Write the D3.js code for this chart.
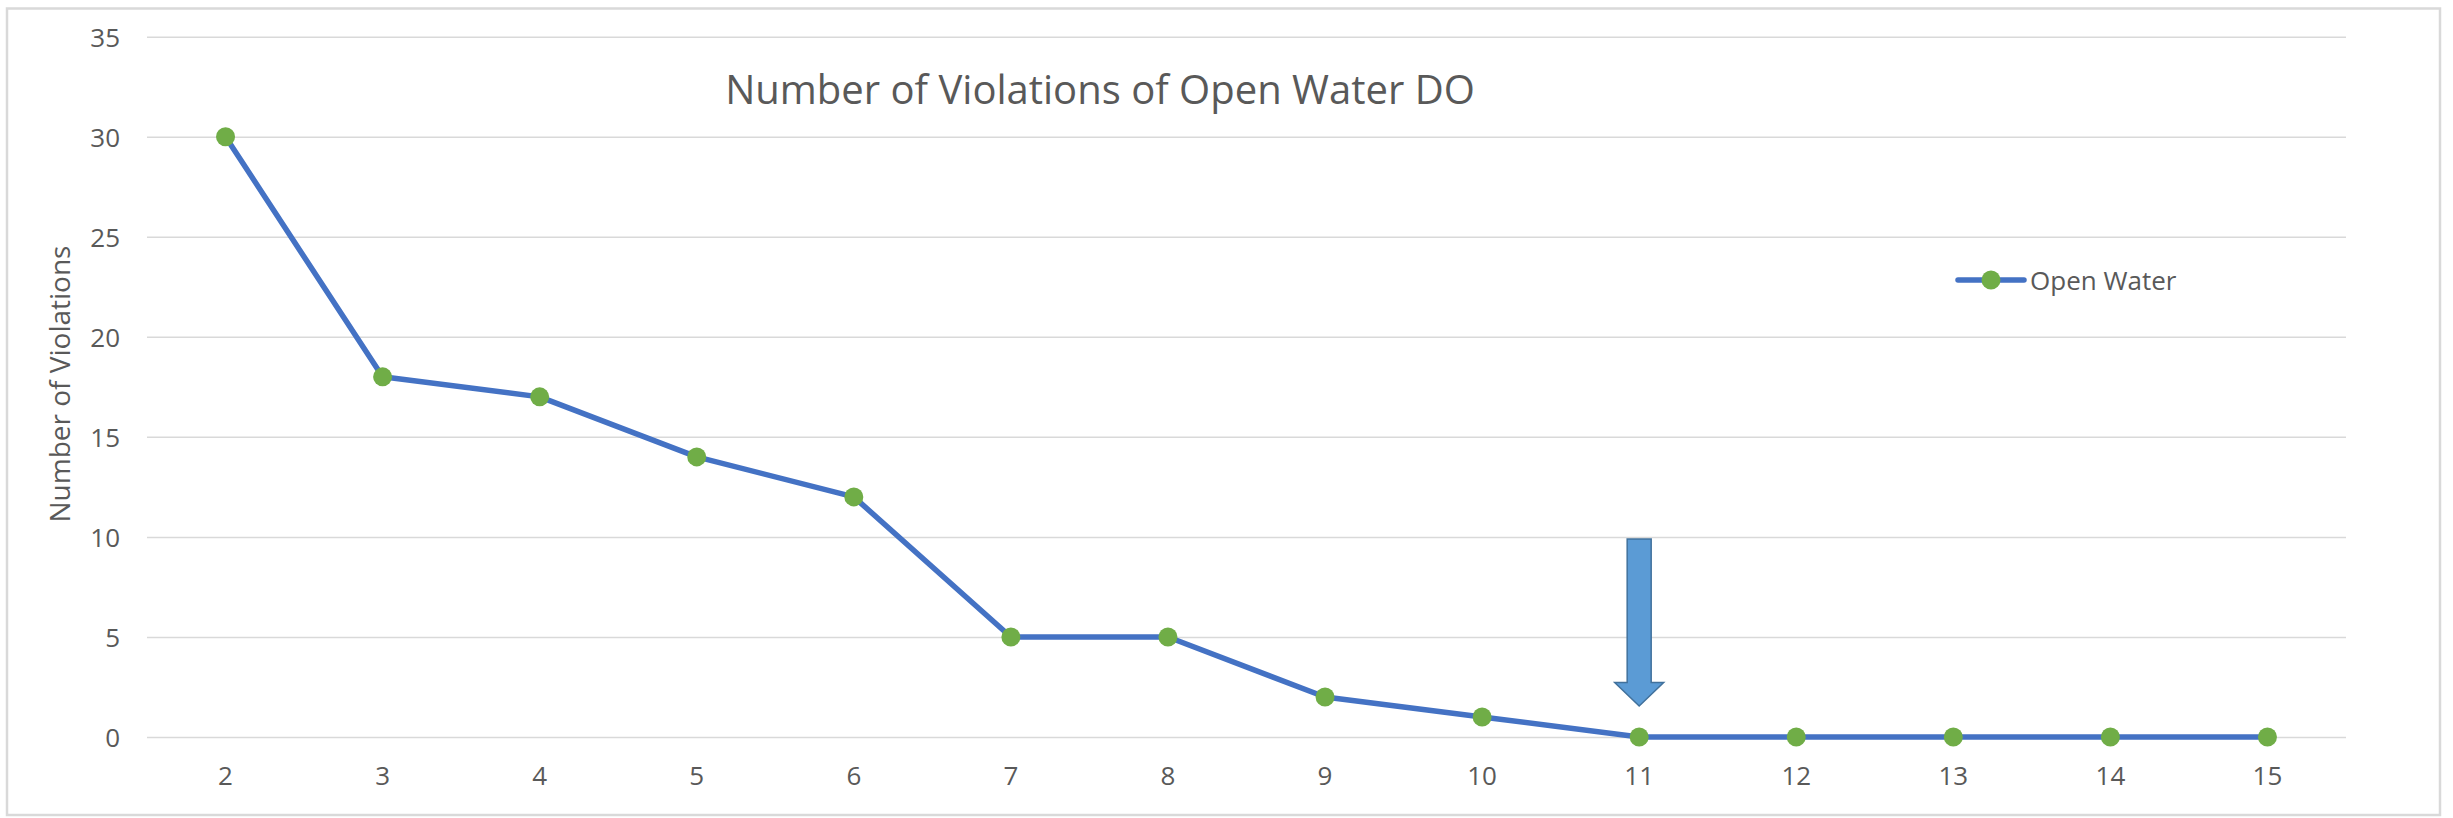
<!DOCTYPE html>
<html>
<head>
<meta charset="utf-8">
<script src="https://cdn.jsdelivr.net/npm/d3@7"></script>
<style>
  html, body { margin: 0; padding: 0; background: #ffffff; }
  svg { display: block; }
  text { font-family: "Open Sans", "Noto Sans", sans-serif; fill: #595959; }
</style>
</head>
<body>
<div id="chart"></div>
<script>
// Number of violations per scenario step
const categories = [2, 3, 4, 5, 6, 7, 8, 9, 10, 11, 12, 13, 14, 15];
const violations = [30, 18, 17, 14, 12, 5, 5, 2, 1, 0, 0, 0, 0, 0];
const yTicks = [0, 5, 10, 15, 20, 25, 30, 35];
const seriesName = "Open Water";
const chartTitle = "Number of Violations of Open Water DO";
const yAxisTitle = "Number of Violations";
// Marker arrow pointing at the first zero-violation step
const arrowAt = { category: 11, from: 9.9, to: 1.55 };

const W = 2453, H = 818;
const plot = { left: 147, right: 2346, top: 36.7, bottom: 737 };

const svg = d3.select("#chart").append("svg")
  .attr("width", W).attr("height", H);

svg.append("rect").attr("width", W).attr("height", H).attr("fill", "#ffffff");

// outer chart frame
svg.append("rect")
  .attr("x", 7).attr("y", 8.5)
  .attr("width", 2433).attr("height", 806.5)
  .attr("fill", "none").attr("stroke", "#d9d9d9").attr("stroke-width", 2.5);

const x = d3.scaleBand().domain(categories).range([plot.left, plot.right]);
const y = d3.scaleLinear().domain([0, 35]).range([plot.bottom, plot.top]);
const cx = d => x(d) + x.bandwidth() / 2;

// horizontal gridlines + y tick labels
const yAxis = d3.axisLeft(y).tickValues(yTicks).tickSize(-(plot.right - plot.left)).tickPadding(27);
const gy = svg.append("g").attr("transform", `translate(${plot.left},0)`).call(yAxis);
gy.select(".domain").remove();
gy.selectAll(".tick line").attr("stroke", "#d9d9d9").attr("stroke-width", 1.5);
gy.selectAll(".tick text")
  .attr("font-size", 26).attr("fill", "#595959")
  .attr("dy", null).attr("y", 9.5)
  .style("font-family", "'Open Sans', sans-serif");

// x tick labels
const xAxis = d3.axisBottom(x).tickSize(0).tickPadding(0);
const gx = svg.append("g").attr("transform", `translate(0,${plot.bottom})`).call(xAxis);
gx.select(".domain").remove();
gx.selectAll(".tick text")
  .attr("font-size", 26).attr("fill", "#595959")
  .attr("dy", null).attr("y", 48)
  .style("font-family", "'Open Sans', sans-serif");

// title
svg.append("text")
  .attr("x", 1100).attr("y", 104)
  .attr("text-anchor", "middle")
  .attr("font-size", 40)
  .text(chartTitle);

// y axis title
svg.append("text")
  .attr("transform", "translate(70,384) rotate(-90)")
  .attr("text-anchor", "middle")
  .attr("font-size", 28)
  .text(yAxisTitle);

// series line
const pts = categories.map((c, i) => ({ c, v: violations[i] }));
svg.append("path")
  .datum(pts)
  .attr("fill", "none")
  .attr("stroke", "#4472c4")
  .attr("stroke-width", 5.5)
  .attr("stroke-linejoin", "round")
  .attr("stroke-linecap", "round")
  .attr("d", d3.line().x(d => cx(d.c)).y(d => y(d.v)));

// markers
svg.append("g").selectAll("circle")
  .data(pts).join("circle")
  .attr("cx", d => cx(d.c)).attr("cy", d => y(d.v))
  .attr("r", 9.5).attr("fill", "#70ad47");

// legend
const lg = svg.append("g");
lg.append("line")
  .attr("x1", 1958).attr("x2", 2024).attr("y1", 280).attr("y2", 280)
  .attr("stroke", "#4472c4").attr("stroke-width", 5.5).attr("stroke-linecap", "round");
lg.append("circle").attr("cx", 1991).attr("cy", 280).attr("r", 9.5).attr("fill", "#70ad47");
lg.append("text").attr("x", 2030).attr("y", 289.5).attr("font-size", 26).text(seriesName);

// down arrow annotation
const ax = cx(arrowAt.category);
const yTop = y(arrowAt.from), yTip = y(arrowAt.to);
const shaftHalf = 12, headHalf = 24.5, headLen = 23.5;
const arrowPath = d3.path();
arrowPath.moveTo(ax - shaftHalf, yTop);
arrowPath.lineTo(ax + shaftHalf, yTop);
arrowPath.lineTo(ax + shaftHalf, yTip - headLen);
arrowPath.lineTo(ax + headHalf, yTip - headLen);
arrowPath.lineTo(ax, yTip);
arrowPath.lineTo(ax - headHalf, yTip - headLen);
arrowPath.lineTo(ax - shaftHalf, yTip - headLen);
arrowPath.closePath();
svg.append("path")
  .attr("d", arrowPath.toString())
  .attr("fill", "#5b9bd5")
  .attr("stroke", "#41719c")
  .attr("stroke-width", 1.5);
</script>
</body>
</html>
